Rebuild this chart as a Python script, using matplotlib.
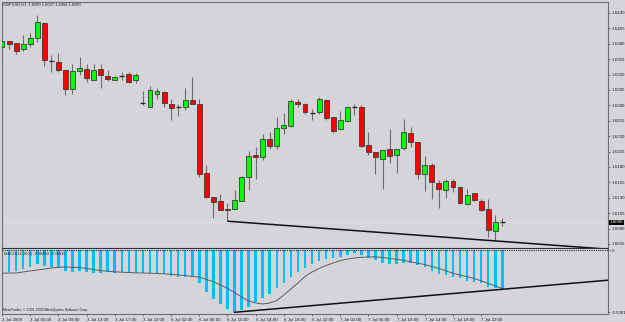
import numpy as np
import matplotlib
matplotlib.use("Agg")
import matplotlib.pyplot as plt
from matplotlib.transforms import blended_transform_factory

# ---------------- data ----------------
opens = [1.6374, 1.6384, 1.6381, 1.6371, 1.6380, 1.6390, 1.6414, 1.6352, 1.6351, 1.6337,
         1.6306, 1.6336, 1.6339, 1.6322, 1.6339, 1.6327, 1.6322, 1.6328, 1.6331, 1.6321,
         1.6283, 1.6278, 1.6298, 1.6302, 1.6283, 1.6278, 1.6277, 1.6289, 1.6283, 1.6170,
         1.6131, 1.6125, 1.6112, 1.6112, 1.6125, 1.6163, 1.6199, 1.6196, 1.6225, 1.6214,
         1.6244, 1.6247, 1.6286, 1.6283, 1.6268, 1.6270, 1.6289, 1.6261, 1.6241, 1.6254,
         1.6278, 1.6278, 1.6216, 1.6205, 1.6193, 1.6209, 1.6200, 1.6211, 1.6235, 1.6221,
         1.6168, 1.6183, 1.6154, 1.6143, 1.6158, 1.6147, 1.6120, 1.6138, 1.6125, 1.6111,
         1.6076, 1.6090]
highs = [1.6385, 1.6385, 1.6382, 1.6394, 1.6397, 1.6427, 1.6415, 1.6362, 1.6365, 1.6338,
         1.6348, 1.6358, 1.6347, 1.6348, 1.6348, 1.6338, 1.6328, 1.6334, 1.6334, 1.6333,
         1.6303, 1.6311, 1.6309, 1.6303, 1.6291, 1.6283, 1.6308, 1.6326, 1.6291, 1.6184,
         1.6131, 1.6136, 1.6121, 1.6143, 1.6165, 1.6206, 1.6213, 1.6234, 1.6237, 1.6261,
         1.6268, 1.6290, 1.6290, 1.6284, 1.6274, 1.6293, 1.6291, 1.6261, 1.6271, 1.6279,
         1.6283, 1.6281, 1.6236, 1.6205, 1.6208, 1.6241, 1.6209, 1.6258, 1.6245, 1.6221,
         1.6198, 1.6187, 1.6159, 1.6160, 1.6161, 1.6147, 1.6145, 1.6138, 1.6128, 1.6128,
         1.6102, 1.6097]
lows = [1.6351, 1.6371, 1.6363, 1.6369, 1.6374, 1.6383, 1.6344, 1.6334, 1.6334, 1.6297,
        1.6298, 1.6329, 1.6318, 1.6321, 1.6309, 1.6320, 1.6321, 1.6322, 1.6317, 1.6316,
        1.6280, 1.6278, 1.6290, 1.6278, 1.6256, 1.6263, 1.6273, 1.6282, 1.6164, 1.6129,
        1.6098, 1.6110, 1.6092, 1.6112, 1.6125, 1.6143, 1.6160, 1.6192, 1.6209, 1.6209,
        1.6233, 1.6245, 1.6278, 1.6266, 1.6256, 1.6266, 1.6256, 1.6235, 1.6240, 1.6253,
        1.6264, 1.6212, 1.6200, 1.6168, 1.6144, 1.6186, 1.6171, 1.6208, 1.6212, 1.6160,
        1.6141, 1.6128, 1.6114, 1.6130, 1.6140, 1.6120, 1.6118, 1.6125, 1.6109, 1.6067,
        1.6060, 1.6084]
closes = [1.6384, 1.6379, 1.6369, 1.6379, 1.6389, 1.6415, 1.6354, 1.6351, 1.6338, 1.6307,
          1.6336, 1.6340, 1.6324, 1.6337, 1.6329, 1.6323, 1.6326, 1.6328, 1.6318, 1.6329,
          1.6284, 1.6305, 1.6303, 1.6284, 1.6275, 1.6278, 1.6289, 1.6283, 1.6168, 1.6132,
          1.6123, 1.6110, 1.6110, 1.6126, 1.6163, 1.6198, 1.6196, 1.6226, 1.6214, 1.6243,
          1.6248, 1.6287, 1.6282, 1.6270, 1.6268, 1.6290, 1.6259, 1.6239, 1.6256, 1.6278,
          1.6278, 1.6214, 1.6205, 1.6196, 1.6208, 1.6198, 1.6209, 1.6236, 1.6221, 1.6168,
          1.6183, 1.6155, 1.6144, 1.6157, 1.6148, 1.6121, 1.6134, 1.6126, 1.6110, 1.6078,
          1.6091, 1.6090]

macd_hist = [-0.00307, -0.00286, -0.00277, -0.00255, -0.00230, -0.00191, -0.00209, -0.00222, -0.00243, -0.00273,
             -0.00294, -0.00277, -0.00294, -0.00299, -0.00299, -0.00294, -0.00299, -0.00294, -0.00294, -0.00299,
             -0.00307, -0.00299, -0.00307, -0.00320, -0.00342, -0.00351, -0.00351, -0.00359, -0.00436, -0.00548,
             -0.00642, -0.00703, -0.00771, -0.00810, -0.00780, -0.00738, -0.00681, -0.00630, -0.00574, -0.00501,
             -0.00428, -0.00351, -0.00286, -0.00243, -0.00191, -0.00144, -0.00123, -0.00114, -0.00093, -0.00071,
             -0.00049, -0.00071, -0.00114, -0.00135, -0.00170, -0.00191, -0.00191, -0.00178, -0.00178, -0.00200,
             -0.00222, -0.00273, -0.00316, -0.00329, -0.00351, -0.00372, -0.00402, -0.00415, -0.00436, -0.00480,
             -0.00501, -0.00513]
macd_signal = [-0.00307, -0.00303, -0.00303, -0.00290, -0.00277, -0.00264, -0.00252, -0.00239, -0.00230, -0.00226,
               -0.00230, -0.00232, -0.00245, -0.00258, -0.00271, -0.00280, -0.00288, -0.00293, -0.00297, -0.00301,
               -0.00303, -0.00306, -0.00310, -0.00313, -0.00320, -0.00329, -0.00335, -0.00348, -0.00355, -0.00387,
               -0.00415, -0.00458, -0.00501, -0.00555, -0.00613, -0.00664, -0.00690, -0.00703, -0.00690, -0.00658,
               -0.00587, -0.00510, -0.00432, -0.00348, -0.00290, -0.00245, -0.00206, -0.00174, -0.00144, -0.00123,
               -0.00110, -0.00101, -0.00097, -0.00094, -0.00103, -0.00116, -0.00126, -0.00139, -0.00159, -0.00177,
               -0.00194, -0.00219, -0.00245, -0.00275, -0.00307, -0.00329, -0.00351, -0.00374, -0.00404, -0.00436,
               -0.00471, -0.00503]

time_label_bars = [0, 4, 8, 12, 16, 20, 24, 28, 32, 36, 40, 44, 48, 52, 56, 60, 64, 68]
time_labels = ["3 Jul 2009", "3 Jul 05:00", "3 Jul 09:00", "3 Jul 13:00", "3 Jul 17:00", "3 Jul 22:00",
               "6 Jul 02:00", "6 Jul 06:00", "6 Jul 10:00", "6 Jul 14:00", "6 Jul 18:00", "6 Jul 22:00",
               "7 Jul 02:00", "7 Jul 06:00", "7 Jul 10:00", "7 Jul 14:00", "7 Jul 18:00", "7 Jul 22:00"]
price_levels = [1.6055, 1.6080, 1.6105, 1.6130, 1.6155, 1.6180, 1.6205, 1.6230, 1.6255, 1.6280,
                1.6305, 1.6330, 1.6355, 1.6380, 1.6405, 1.6430]
price_trend_bars = [32, 70]
price_trend_vals = [1.6092, 1.6060]
macd_trend_bars = [33, 71]
macd_trend_vals = [-0.00810, -0.00513]
bid_price = 1.6090
title_text = "GBPUSD,H1  1.6090 1.6097 1.6084 1.6090"
macd_text = "MACD(12,26,9) -0.00494 -0.00415"
copyright_text = "MetaTrader, \u00a9 2001-2009 MetaQuotes Software Corp."

# ---------------- style ----------------
small_font = ["Liberation Sans", "DejaVu Sans"]
FS = 3.2
BG = "#d5d4d8"
TXT = "#1e1e1e"

W, H = 625, 322
fig = plt.figure(figsize=(W / 100, H / 100), dpi=100, facecolor=BG)


def px_box(x0, y0, x1, y1):
    return [x0 / W, 1 - y1 / H, (x1 - x0) / W, (y1 - y0) / H]


ax = fig.add_axes(px_box(2, 1.5, 608, 247.5), facecolor=BG)
ax2 = fig.add_axes(px_box(2, 249, 608, 314), facecolor=BG, sharex=ax)

n = len(opens)
idx = np.arange(n)
o = np.array(opens); c = np.array(closes); hi = np.array(highs); lo = np.array(lows)

# wicks
ax.vlines(idx, lo, hi, color="#6c6c6c", lw=0.8, zorder=2)
# bodies
up = c > o + 0.00012
dn = c < o - 0.00012
doji = ~(up | dn)
bw = 0.70
ax.bar(idx[up], (c - o)[up], bottom=o[up], width=bw, color="#00ff00",
       edgecolor="#3a3a3a", linewidth=0.6, zorder=3)
ax.bar(idx[dn], (o - c)[dn], bottom=c[dn], width=bw, color="#ff0000",
       edgecolor="#3a3a3a", linewidth=0.6, zorder=3)
ax.hlines(((o + c) / 2)[doji], idx[doji] - bw / 2, idx[doji] + bw / 2, color="#202020", lw=0.9, zorder=3)

# bid line
ax.axhline(bid_price, color="#e4e4e6", lw=0.5, zorder=1)

# price trend line (extended to the right)
tb = np.array(price_trend_bars); tv = np.array(price_trend_vals)
slope = (tv[1] - tv[0]) / (tb[1] - tb[0])
xe = np.array([tb[0], 90])
ax.plot(xe, tv[0] + slope * (xe - tb[0]), color="#111111", lw=1.1, zorder=4, solid_capstyle="butt")

x_left = (2 - 1.7) / 7.05
x_right = (608 - 1.7) / 7.05
ax.set_xlim(x_left, x_right)
ax.set_ylim(1.64511 - 0.00016234 * 247.5, 1.64511 - 0.00016234 * 1.5)

ax.yaxis.tick_right()
ax.set_yticks(price_levels)
ax.set_yticklabels([f"{p:.4f}" for p in price_levels])
ax.tick_params(axis="y", direction="out", length=1.5, width=0.5, color="#404040", pad=1.0,
               labelsize=FS, labelcolor=TXT)
for t in ax.get_yticklabels():
    t.set_fontfamily(small_font)
ax.tick_params(axis="x", bottom=False, labelbottom=False)
for s in ["top", "left", "right"]:
    ax.spines[s].set_color("#6e6e6e"); ax.spines[s].set_linewidth(0.8)
ax.spines["bottom"].set_color("#303030")
ax.spines["bottom"].set_linestyle((0, (1, 1)))
ax.spines["bottom"].set_linewidth(0.8)

# current price box
trans = blended_transform_factory(ax.transAxes, ax.transData)
ax.text(1.0025, bid_price, f"{bid_price:.4f}", transform=trans, ha="left", va="center",
        fontsize=FS, color="white", family=small_font, zorder=6,
        bbox=dict(boxstyle="square,pad=0.12", fc="black", ec="black", lw=0))

# ---------------- MACD ----------------
ax2.bar(idx, macd_hist, width=0.36, color="#00bfff", zorder=2)
ax2.plot(idx, macd_signal, color="#5c5c5c", lw=0.7, zorder=3)
mb = np.array(macd_trend_bars); mv = np.array(macd_trend_vals)
mslope = (mv[1] - mv[0]) / (mb[1] - mb[0])
xe2 = np.array([mb[0], 90])
ax2.plot(xe2, mv[0] + mslope * (xe2 - mb[0]), color="#111111", lw=1.1, zorder=4)
ax2.axhline(0, color="#202020", lw=0.8, ls=(0, (1, 1)), zorder=3)

px_macd = 0.000129
ax2.set_ylim(-(314 - 249.5) * px_macd, 0.5 * px_macd)
ax2.yaxis.tick_right()
ax2.set_yticks([0, -0.0081])
ax2.set_yticklabels(["0", "-0.0081"])
ax2.tick_params(axis="y", direction="out", length=1.5, width=0.5, color="#404040", pad=1.0,
                labelsize=FS, labelcolor=TXT)
for t in ax2.get_yticklabels():
    t.set_fontfamily(small_font)
ax2.get_yticklabels()[0].set_va("top")

ax2.set_xticks(time_label_bars)
ax2.set_xticklabels(time_labels, ha="left")
ax2.tick_params(axis="x", direction="out", length=1.5, width=0.5, color="#404040", pad=1.5,
                labelsize=FS, labelcolor=TXT)
for t in ax2.get_xticklabels():
    t.set_fontfamily(small_font)
for s in ["left", "right", "bottom"]:
    ax2.spines[s].set_color("#6e6e6e"); ax2.spines[s].set_linewidth(0.8)
ax2.spines["top"].set_visible(False)

# ---------------- texts ----------------
fig.text(3 / W, 1 - 4.5 / H, title_text, fontsize=2.9, family=small_font, color=TXT,
         ha="left", va="center")
fig.text(4 / W, 1 - 254 / H, macd_text, fontsize=2.9, family=small_font, color=TXT,
         ha="left", va="center")
fig.text(3 / W, 1 - 310.5 / H, copyright_text, fontsize=2.5, family=small_font, color=TXT,
         ha="left", va="center")

fig.savefig("out.png", dpi=100, facecolor=BG)
